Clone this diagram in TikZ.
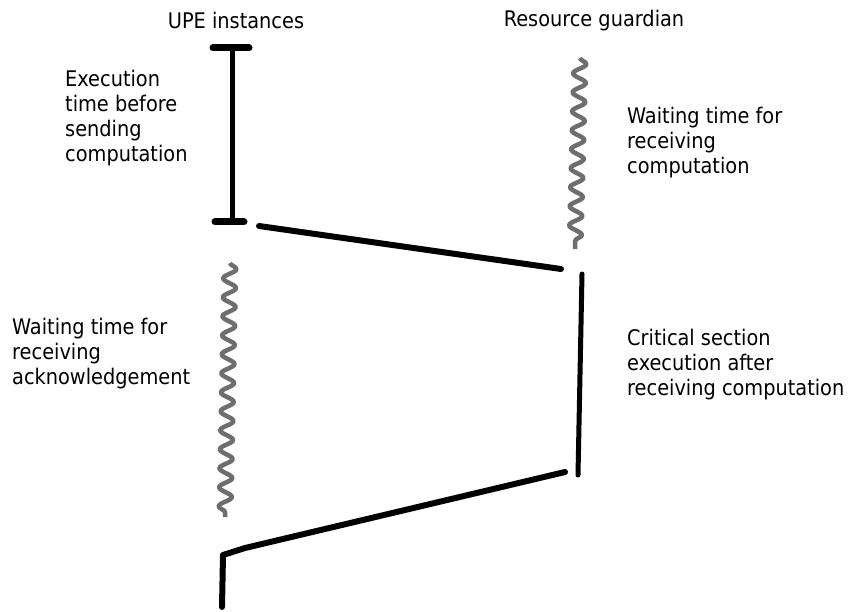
\documentclass[tikz,border=0pt]{standalone}
\usepackage{fontspec}
\setmainfont{DejaVu Sans Condensed}
\usetikzlibrary{decorations.pathmorphing}
\definecolor{waitgray}{HTML}{6E6E6E}
\begin{document}
\begin{tikzpicture}[x=1pt,y=-1pt,
  lbl/.style={anchor=north west, align=left, inner sep=0pt,
    font=\fontsize{21.5}{25}\selectfont},
  head/.style={anchor=base, inner sep=0pt, font=\fontsize{21.5}{24}\selectfont},
  busy/.style={line width=5pt, line cap=round},
  bar/.style={line width=7pt, line cap=round},
  msg/.style={line width=6pt, line cap=round},
  wait/.style={draw=waitgray, line width=4.5pt, line join=round, decorate,
    decoration={snake, segment length=19pt, amplitude=6.5pt}},
]
\useasboundingbox[fill=white] (0,0) rectangle (848,612);

% lane headings
\node[head] (upe) at (236,29) {UPE instances};
\node[head] (rg) at (594,27) {Resource guardian};

% UPE: execution before sending
\coordinate (e1) at (232,48);
\coordinate (e2) at (232,222);
\draw[bar] (213,48) -- (249,48);
\draw[busy] (e1) -- (e2);
\draw[bar] (215,222) -- (244,222);

% message to the guardian
\coordinate (s1) at (259,226);
\coordinate (s2) at (561,269);
\draw[msg] (s1) -- (s2);

% guardian waiting
\coordinate (w1) at (580,58);
\coordinate (w2) at (575,249);
\draw[wait] (w1) -- (w2);

% guardian critical section
\coordinate (c1) at (582,274);
\coordinate (c2) at (578,475);
\draw[busy] (c1) -- (c2);

% UPE waiting for acknowledgement
\coordinate (a1) at (230,263);
\coordinate (a2) at (225,517);
\draw[wait] (a1) -- (a2);

% acknowledgement back to UPE and resumed execution
\coordinate (k1) at (565,472);
\coordinate (k2) at (245,548);
\coordinate (k3) at (223,555);
\coordinate (k4) at (222,607);
\draw[msg, line join=round] (k1) -- (k2) -- (k3) -- (k4);

% labels
\node[lbl] (t1) at (65,70) {Execution\\time before\\sending\\computation};
\node[lbl] (t2) at (627,107) {Waiting time for\\receiving\\computation};
\node[lbl] (t3) at (12,318) {Waiting time for\\receiving\\acknowledgement};
\node[lbl] (t4) at (627,329) {Critical section\\execution after\\receiving computation};
\end{tikzpicture}
\end{document}
